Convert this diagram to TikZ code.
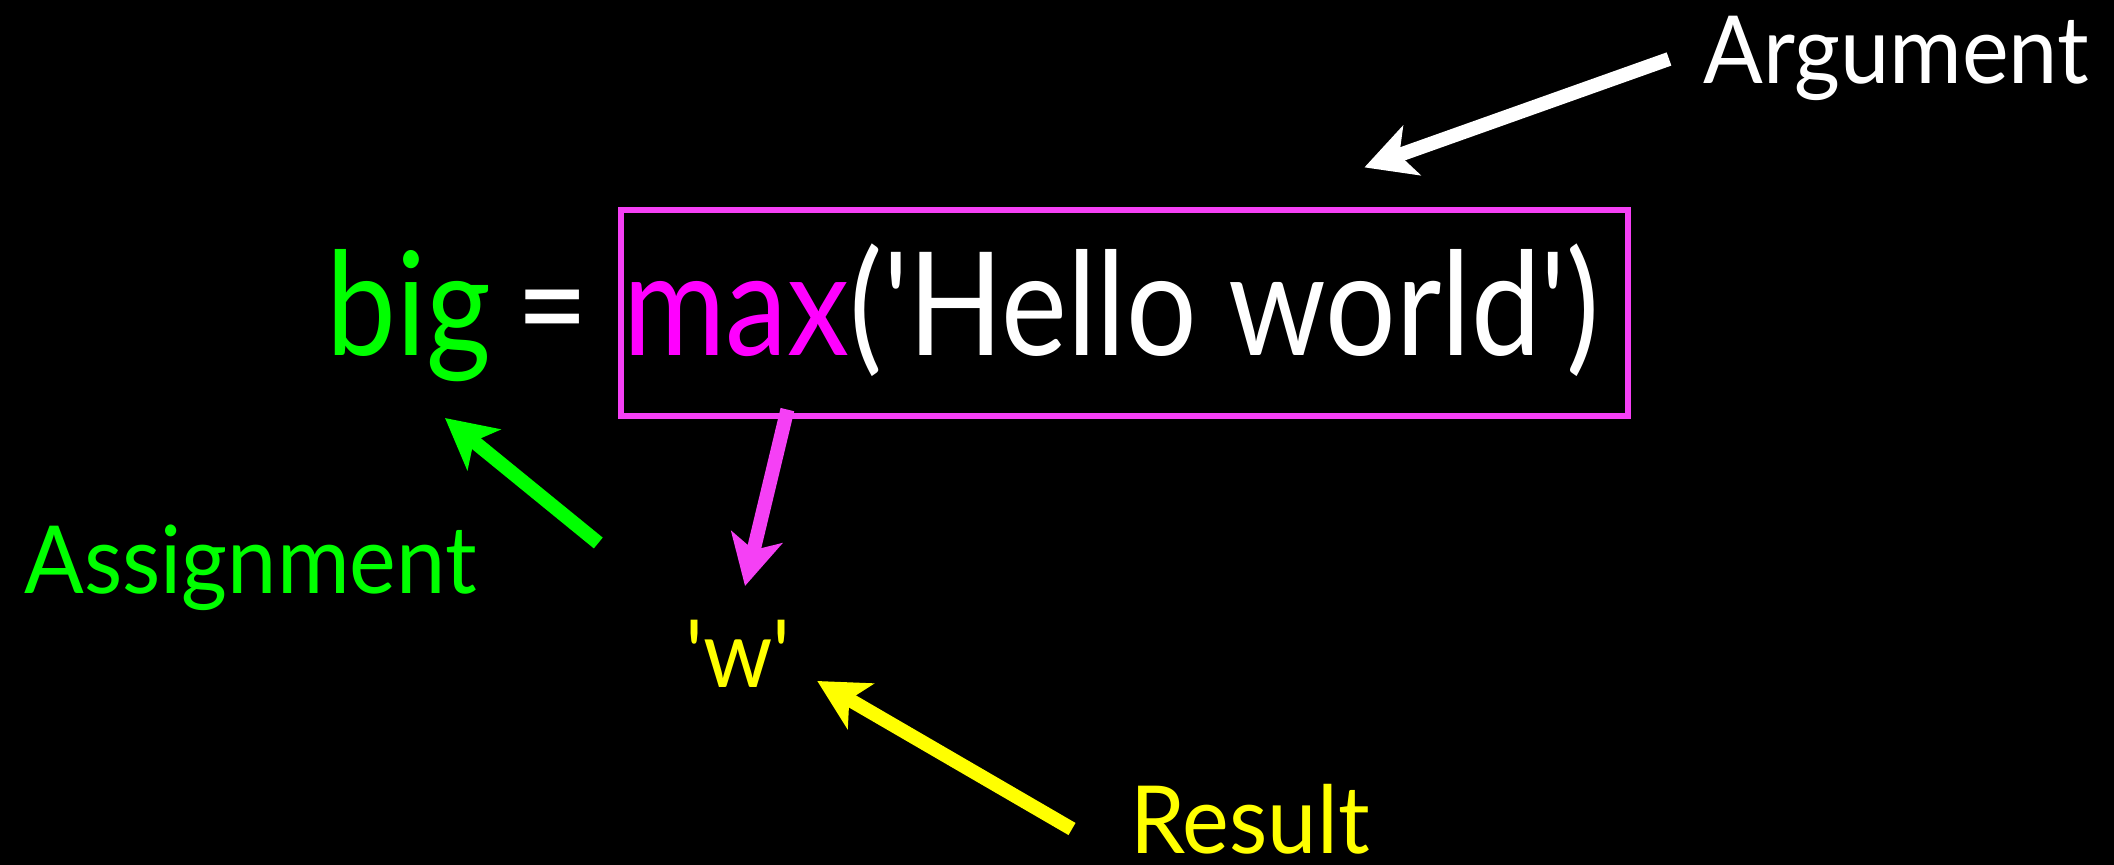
\documentclass[tikz,border=0pt]{standalone}
\usepackage{fontspec}
\setmainfont{Lato}[Ligatures=TeXOff]
\newfontfamily\codefont{Lato}[Ligatures=TeXOff, FakeStretch=0.865]
\newfontfamily\lblfont{Lato}[Ligatures=TeXOff, FakeStretch=0.94]
\usetikzlibrary{arrows.meta, calc}
\definecolor{codegreen}{RGB}{0,255,0}
\definecolor{codemagenta}{RGB}{255,0,255}
\definecolor{boxpink}{RGB}{245,64,245}
\definecolor{resyellow}{RGB}{255,255,0}
\begin{document}
\begin{tikzpicture}
                [x=0.5pt, y=-0.5pt,
                codesty/.style={font=\codefont\fontsize{72}{86}\selectfont, inner sep=0pt, anchor=base west},
                lblsty/.style={font=\lblfont\fontsize{47}{56}\selectfont, inner sep=0pt, anchor=base west},
                asty/.style={-{Stealth[length=25pt, width=26pt, inset=6.5pt]}, line width=7pt}]
                % background
                \fill[black] (0,0) rectangle (2114,865);
                % code line
                \node[codesty, codegreen] (big) at (326,356) {big};
                \node[codesty, white] (eq) at (516,356) {=};
                \node[codesty, white] (call) at (623,356) {\textcolor{codemagenta}{max}('Hello world')};
                \node[draw=boxpink, line width=2.6pt, minimum width=503.5pt, minimum height=103pt, inner sep=0pt] (box) at (1124.5,313) {};
                % labels
                \node[lblsty, white] (argument) at (1703,84) {Argument};
                \node[lblsty, codegreen] (assignment) at (24,593) {Assignment};
                \node[lblsty, resyellow] (w) at (685,687) {'w'};
                \node[lblsty, resyellow] (result) at (1130,853) {Result};
                % arrows
                \draw[asty, white] ($(argument.base west)+(-34,-25)$) -- ($(box.north west)+(746,-40)$);
                \draw[asty, boxpink] ($(box.south west)+(169,-9)$) -- ($(w.base west)+(60,-101)$);
                \draw[asty, codegreen] ($(assignment.base east)+(121,-50)$) -- ($(big.base west)+(119,62)$);
                \draw[asty, resyellow] ($(result.base west)+(-58,-24)$) -- ($(w.base east)+(26,-6)$);
            \end{tikzpicture}
\end{document}
